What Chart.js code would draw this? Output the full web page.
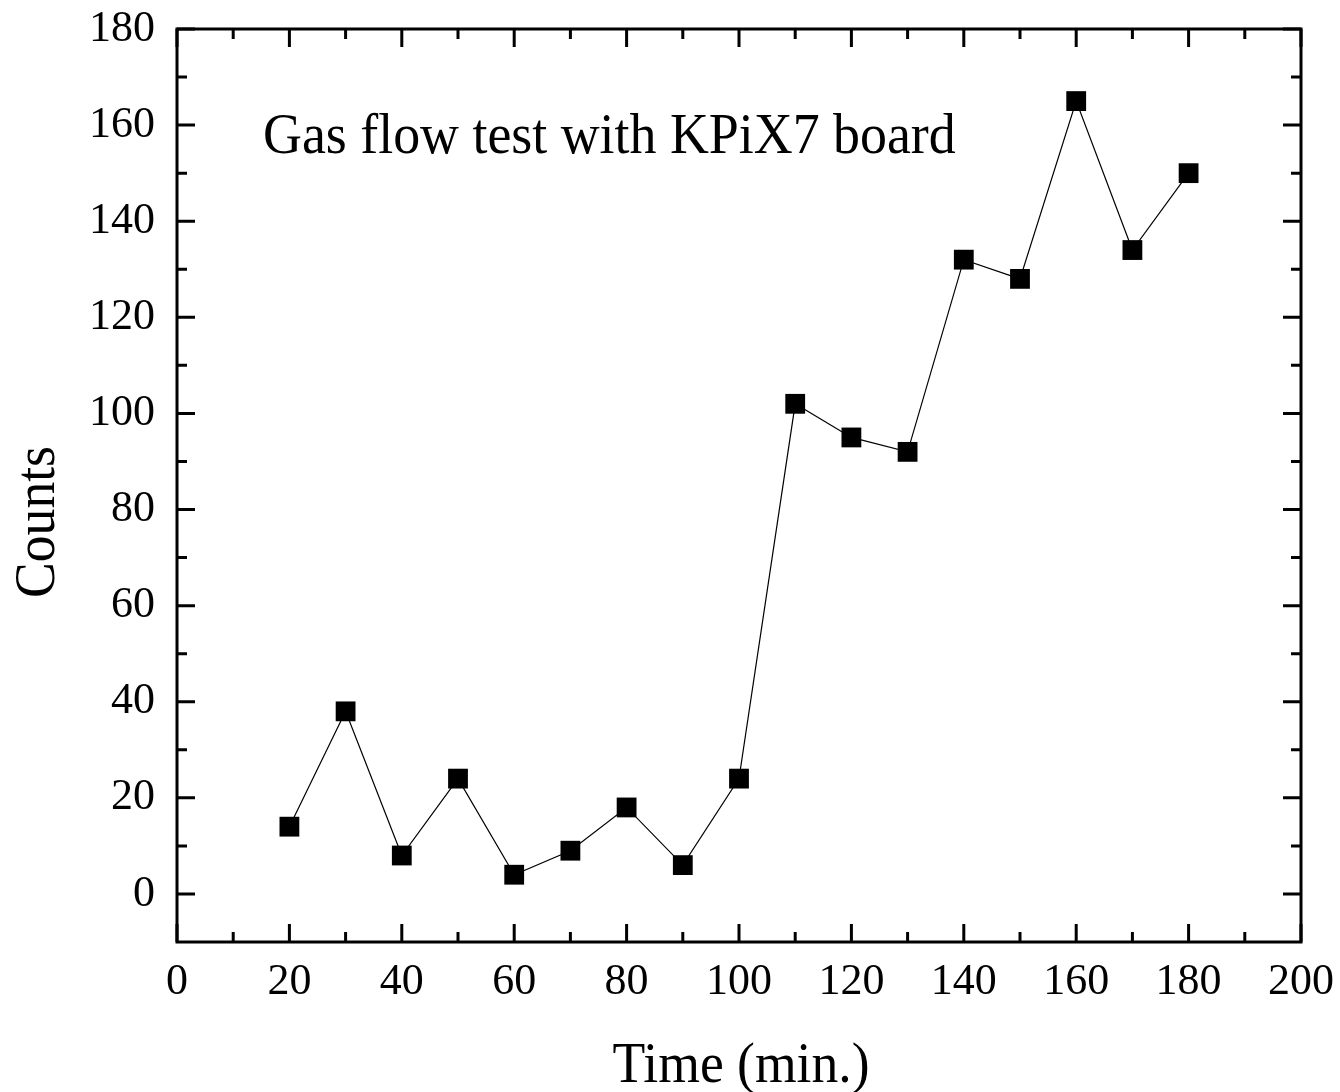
<!DOCTYPE html>
<html>
<head>
<meta charset="utf-8">
<script src="https://cdn.jsdelivr.net/npm/chart.js@4.4.1/dist/chart.umd.min.js"></script>
<style>
  html, body { margin: 0; padding: 0; background: #fff; }
  #wrap { width: 1340px; height: 1092px; }
</style>
</head>
<body>
<div id="wrap"><canvas id="chart" width="1340" height="1092"></canvas></div>
<script>
// Data
const times = [20, 30, 40, 50, 60, 70, 80, 90, 100, 110, 120, 130, 140, 150, 160, 170, 180];
const counts = [14, 38, 8, 24, 4, 9, 18, 6, 24, 102, 95, 92, 132, 128, 165, 134, 150];
const xTicks = [0, 20, 40, 60, 80, 100, 120, 140, 160, 180, 200];
const yTicks = [0, 20, 40, 60, 80, 100, 120, 140, 160, 180];
const xMinor = [10, 30, 50, 70, 90, 110, 130, 150, 170, 190];
const yMinor = [10, 30, 50, 70, 90, 110, 130, 150, 170];

const serif = "'Liberation Serif', 'Times New Roman', serif";

// frame, inward ticks and texts
const framePlugin = {
    id: 'frame',
    afterDraw(chart) {
        const { ctx, chartArea: a, scales } = chart;
        const xs = scales.x, ys = scales.y;
        ctx.save();
        ctx.strokeStyle = '#000';
        ctx.lineWidth = 3;
        ctx.strokeRect(a.left, a.top, a.right - a.left, a.bottom - a.top);

        const tick = (vals, len, isX) => {
            vals.forEach(v => {
                ctx.beginPath();
                if (isX) {
                    const px = xs.getPixelForValue(v);
                    ctx.moveTo(px, a.bottom); ctx.lineTo(px, a.bottom - len);
                    ctx.moveTo(px, a.top); ctx.lineTo(px, a.top + len);
                } else {
                    const py = ys.getPixelForValue(v);
                    ctx.moveTo(a.left, py); ctx.lineTo(a.left + len, py);
                    ctx.moveTo(a.right, py); ctx.lineTo(a.right - len, py);
                }
                ctx.stroke();
            });
        };
        tick(xTicks, 18, true);
        tick(xMinor, 10, true);
        tick(yTicks, 18, false);
        tick(yMinor, 10, false);

        ctx.fillStyle = '#000';
        ctx.font = '57px ' + serif;
        ctx.textBaseline = 'alphabetic';

        // annotation
        ctx.save();
        ctx.translate(263, 153);
        ctx.scale(0.945, 1);
        ctx.textAlign = 'left';
        ctx.fillText('Gas flow test with KPiX7 board', 0, 0);
        ctx.restore();

        // x title
        ctx.save();
        ctx.translate((a.left + a.right) / 2 + 2, 1082);
        ctx.scale(0.94, 1);
        ctx.textAlign = 'center';
        ctx.fillText('Time (min.)', 0, 0);
        ctx.restore();

        // y title
        ctx.save();
        ctx.translate(54, 522);
        ctx.rotate(-Math.PI / 2);
        ctx.scale(0.94, 1);
        ctx.textAlign = 'center';
        ctx.fillText('Counts', 0, 0);
        ctx.restore();

        ctx.restore();
    }
};

new Chart(document.getElementById('chart'), {
    type: 'line',
    data: {
        datasets: [{
            data: times.map((t, i) => ({ x: t, y: counts[i] })),
            borderColor: '#000',
            borderWidth: 1.2,
            backgroundColor: '#000',
            pointStyle: 'rect',
            pointRadius: 14,
            pointHoverRadius: 14,
            pointBorderWidth: 0,
            tension: 0,
            fill: false
        }]
    },
    options: {
        responsive: false,
        animation: false,
        layout: { padding: { top: 29, right: 39, left: 0, bottom: 0 } },
        plugins: { legend: { display: false }, tooltip: { enabled: false } },
        scales: {
            x: {
                type: 'linear',
                min: 0, max: 200,
                afterBuildTicks: s => { s.ticks = xTicks.map(v => ({ value: v })); },
                afterFit: s => { s.height = 150; s.paddingLeft = 0; s.paddingRight = 0; },
                grid: { display: false, drawTicks: false },
                border: { display: false },
                ticks: { color: '#000', padding: 14, maxRotation: 0, font: { family: serif, size: 44 } }
            },
            y: {
                type: 'linear',
                min: -10, max: 180,
                afterBuildTicks: s => { s.ticks = yTicks.map(v => ({ value: v })); },
                afterFit: s => { s.width = 177; s.paddingTop = 0; s.paddingBottom = 0; },
                grid: { display: false, drawTicks: false },
                border: { display: false },
                ticks: { color: '#000', padding: 22, font: { family: serif, size: 44 } }
            }
        }
    },
    plugins: [framePlugin]
});
</script>
</body>
</html>
